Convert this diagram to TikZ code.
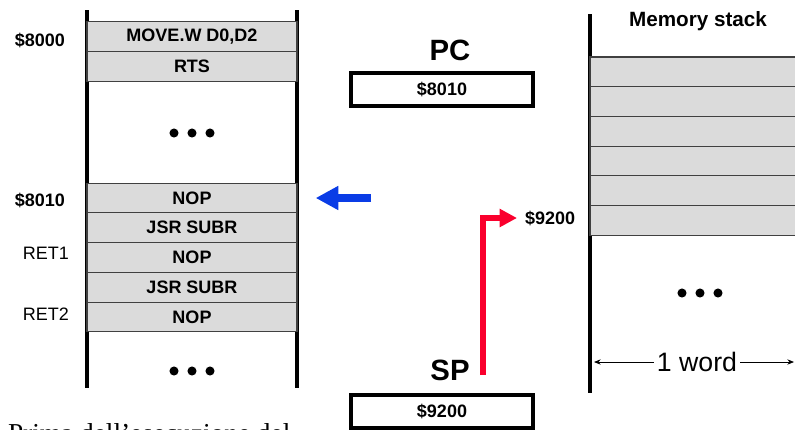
\documentclass[tikz,border=0pt]{standalone}
\usepackage{fontspec}
\setmainfont{Liberation Sans}
\newfontfamily\noteserif{Liberation Serif}
\usetikzlibrary{positioning, arrows.meta, calc}

\definecolor{pcblue}{RGB}{10,60,230}
\definecolor{spred}{RGB}{250,0,45}

\begin{document}
\begin{tikzpicture}[
    x=0.75pt, y=-0.75pt,
    >=Stealth,
    every node/.style={font=\fontsize{13.5}{16}\selectfont\bfseries, inner sep=0pt, outer sep=0pt},
    cell/.style={draw=black!75, fill=black!14, line width=0.8pt, minimum width=157.5pt, minimum height=22.3pt},
    slot/.style={cell, minimum width=160pt},
    addr/.style={anchor=east},
    retlbl/.style={anchor=east, font=\fontsize{13.5}{16}\selectfont},
    regbox/.style={draw, line width=3pt, fill=white, minimum width=137pt, minimum height=25pt},
    regname/.style={font=\fontsize{22}{26}\selectfont\bfseries},
    rail/.style={line width=3pt},
    pcarrow/.style={-{Triangle[length=17pt, width=17pt]}, line width=6pt, color=pcblue},
    sparrow/.style={-{Triangle[length=13pt, width=13pt]}, line width=3.8pt, color=spred, line join=miter},
    span/.style={{Stealth[length=5pt, width=4pt]}-{Stealth[length=5pt, width=4pt]}, line width=0.6pt},
    wordlbl/.style={font=\fontsize{20}{24}\selectfont, fill=white, inner xsep=2pt},
]

    \useasboundingbox (0,0) rectangle (795,429);
    \clip (0,0) rectangle (795,429);

    % program memory
    \draw[rail] (87,10) -- (87,388);
    \draw[rail] (297,10) -- (297,388);

    \node[cell] (c1) at (192,36.8) {MOVE.W D0,D2};
    \node[cell, below=0pt of c1] (c2) {RTS};
    \foreach \dx in {-18,0,18} \fill (192+\dx,133) circle (3.4pt);

    \node[cell] (c3) at (192,198) {NOP};
    \node[cell, below=0pt of c3] (c4) {JSR SUBR};
    \node[cell, below=0pt of c4] (c5) {NOP};
    \node[cell, below=0pt of c5] (c6) {JSR SUBR};
    \node[cell, below=0pt of c6] (c7) {NOP};
    \foreach \dx in {-18,0,18} \fill (192+\dx,371) circle (3.4pt);

    % addresses
    \node[addr] (a8000) at (65,40) {\$8000};
    \node[addr] (a8010) at (65,200) {\$8010};
    \node[retlbl] (ret1) at (69,253) {RET1};
    \node[retlbl] (ret2) at (69,314) {RET2};

    % registers
    \node[regname] (pcname) at (450,50) {PC};
    \node[regbox] (pcreg) at (442,89.5) {\$8010};
    \node[regname] (spname) at (450,370) {SP};

    % PC pointer
    \coordinate (pctail) at ([xshift=55.5pt]c3.east);
    \draw[pcarrow] (pctail) -- ([xshift=14pt]c3.east);

    % memory stack
    \node[font=\fontsize{15.5}{18}\selectfont\bfseries] (stacktitle) at (698,21) {Memory stack};
    \draw[rail] (590,14) -- (590,393);
    \node[slot, anchor=north west] (s1) at (590,57) {};
    \node[slot, below=0pt of s1] (s2) {};
    \node[slot, below=0pt of s2] (s3) {};
    \node[slot, below=0pt of s3] (s4) {};
    \node[slot, below=0pt of s4] (s5) {};
    \node[slot, below=0pt of s5] (s6) {};
    \foreach \dx in {-18,0,18} \fill (700+\dx,293) circle (3.4pt);

    \node[anchor=west] (a9200) at (525,218) {\$9200};

    % SP pointer
    \coordinate (sptail) at (483,375);
    \draw[sparrow] (sptail) |- ([xshift=-6pt]a9200.west);

    % word width
    \coordinate (wl) at (594,362);
    \coordinate (wr) at (794,362);
    \draw[span] (wl) -- (wr);
    \node[wordlbl] (word) at (697,362) {1 word};

    % caption (cut by the frame)
    \node[anchor=base west, font=\noteserif\fontsize{20.5}{24}\selectfont] (note) at (8,442) {Prima dell’esecuzione del};
    \node[regbox] (spreg) at (442,411.5) {\$9200};

\end{tikzpicture}
\end{document}
